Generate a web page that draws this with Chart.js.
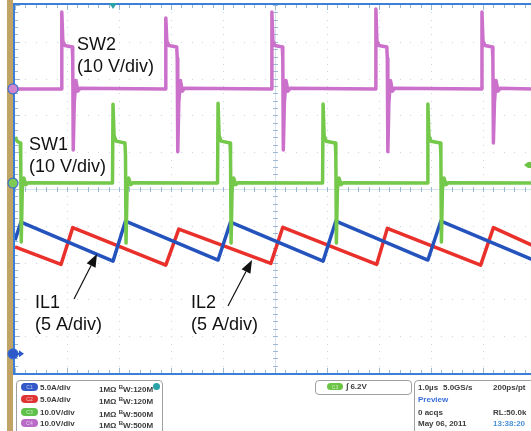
<!DOCTYPE html>
<html>
<head>
  <meta charset="utf-8" />
  <title>SW1 / SW2 / IL1 / IL2</title>
  <script src="https://cdn.jsdelivr.net/npm/chart.js"></script>
  <style>
    html, body { margin: 0; padding: 0; background: #fff; overflow: hidden; }
    #wrap { position: relative; width: 531px; height: 431px; overflow: hidden; }
    #scope { position: absolute; left: 0; top: 0; }
    .box { position: absolute; border: 1px solid #a0a0a0; border-radius: 4px; background: #fff; }
    .t { position: absolute; font: bold 8px 'Liberation Sans', Arial, sans-serif; color: #3c3c3c; white-space: nowrap; line-height: 9px; }
    .badge { position: absolute; width: 17px; height: 8px; border-radius: 4px; font: 5px 'Liberation Sans', Arial, sans-serif; color: rgba(255,255,255,0.7); text-align: center; line-height: 8px; }
    .bw { font-size: 6px; vertical-align: 3px; }
  </style>
</head>
<body>
<div id="wrap">
  <canvas id="scope" width="540" height="431"></canvas>
  <div id="status"></div>
</div>

<script>
// time in µs (1 µs/div), levels in screen divisions (center = 0)
const sw2 = [
  [0, 2.72],
  [0.89, 2.72], [0.90, 4.81], [0.92, 4.02], [0.96, 3.90], [1.10, 3.86], [1.11, 3.55], [1.12, 1.06], [1.14, 2.35], [1.17, 2.95], [1.21, 2.66], [1.25, 2.74],
  [2.89, 2.72], [2.90, 4.65], [2.92, 4.02], [2.96, 3.90], [3.11, 3.86], [3.12, 3.55], [3.13, 1.01], [3.15, 2.35], [3.18, 2.95], [3.22, 2.66], [3.26, 2.74],
  [4.93, 2.72], [4.94, 4.81], [4.96, 4.02], [5.00, 3.90], [5.14, 3.86], [5.15, 3.55], [5.16, 1.06], [5.18, 2.35], [5.21, 2.95], [5.25, 2.66], [5.29, 2.74],
  [6.93, 2.72], [6.94, 4.89], [6.96, 4.02], [7.00, 3.90], [7.15, 3.86], [7.16, 3.55], [7.17, 1.01], [7.19, 2.35], [7.22, 2.95], [7.26, 2.66], [7.30, 2.74],
  [8.97, 2.72], [8.98, 4.81], [9.00, 4.02], [9.04, 3.90], [9.18, 3.86], [9.19, 3.55], [9.20, 1.25], [9.22, 2.35], [9.25, 2.95], [9.29, 2.66], [9.33, 2.74],
  [9.95, 2.72]
];

const sw1 = [
  [0, 1.41], [0.04, 1.30], [0.10, 1.25], [0.11, 0.90], [0.12, -1.44], [0.14, 0.00], [0.17, 0.30], [0.21, 0.12], [0.25, 0.17],
  [1.875, 0.16], [1.885, 2.30], [1.905, 1.45], [1.945, 1.30], [2.115, 1.25], [2.125, 0.90], [2.135, -1.47], [2.155, 0.00], [2.185, 0.30], [2.225, 0.12], [2.265, 0.17],
  [3.895, 0.16], [3.905, 2.33], [3.925, 1.45], [3.965, 1.30], [4.135, 1.25], [4.145, 0.90], [4.155, -1.47], [4.175, 0.00], [4.205, 0.30], [4.245, 0.12], [4.285, 0.17],
  [5.915, 0.16], [5.925, 2.31], [5.945, 1.45], [5.985, 1.30], [6.160, 1.25], [6.170, 0.90], [6.180, -1.47], [6.200, 0.00], [6.230, 0.30], [6.270, 0.12], [6.310, 0.17],
  [7.930, 0.16], [7.940, 2.31], [7.960, 1.45], [8.000, 1.30], [8.180, 1.25], [8.190, 0.90], [8.200, -1.44], [8.220, 0.00], [8.250, 0.30], [8.290, 0.12], [8.330, 0.17],
  [9.95, 0.16]
];

const il1 = [
  [0, -1.39], [0.115, -0.90], [1.885, -1.96], [2.125, -0.87], [3.905, -1.93], [4.145, -0.90],
  [5.925, -1.96], [6.17, -0.87], [7.94, -1.93], [8.19, -0.87], [9.95, -1.92]
];

const il2 = [
  [0, -1.57], [0.885, -2.05], [1.11, -1.05], [2.90, -2.07], [3.15, -1.09], [4.92, -2.02], [5.15, -1.04],
  [6.955, -2.05], [7.16, -1.07], [8.955, -2.07], [9.20, -1.05], [9.95, -1.53]
];

// channel ground markers and trigger (divisions / µs)
const groundSW2 = 2.72;
const groundSW1 = 0.16;
const groundIL1 = -4.48;
const trigTime = 1.885;
const trigLevel = 0.65;

const notes = [
  { lines: ['SW2', '(10 V/div)'], t: 1.19, v: 3.78 },
  { lines: ['SW1', '(10 V/div)'], t: 0.27, v: 1.06 },
  { lines: ['IL1', '(5 A/div)'], t: 0.385, v: -3.23 },
  { lines: ['IL2', '(5 A/div)'], t: 3.385, v: -3.23 }
];
const arrows = [
  { from: [1.135, -2.99], to: [1.577, -1.766] },
  { from: [4.096, -3.18], to: [4.558, -1.929] }
];

const channelRows = [
  ['C1', '#3458c8', '5.0A/div', '120M'],
  ['C2', '#e03434', '5.0A/div', '120M'],
  ['C3', '#5fc04a', '10.0V/div', '500M'],
  ['C4', '#b86cc8', '10.0V/div', '500M']
];

const toXY = arr => arr.map(p => ({ x: p[0], y: p[1] }));

const graticule = {
  id: 'graticule',
  beforeDatasetsDraw(chart) {
    const { ctx, chartArea: a, scales: { x, y } } = chart;
    const xs = [], ys = [];
    for (let i = 0; i <= 50; i++) xs.push(Math.round(x.getPixelForValue(x.min + i * 0.2)));
    for (let i = 0; i <= 50; i++) ys.push(Math.round(y.getPixelForValue(y.min + i * 0.2)));
    ctx.save();
    // tan strip at left
    ctx.fillStyle = '#c2a366';
    ctx.fillRect(a.left - 8, 0, 6, 431);

    // dotted division lines
    ctx.fillStyle = '#c6d4e3';
    for (let i = 5; i < 50; i += 5) {
      if (i === 25) continue;
      for (let j = 0; j < ys.length; j++) ctx.fillRect(xs[i], ys[j], 1, 1);
      for (let j = 0; j < xs.length; j++) ctx.fillRect(xs[j], ys[i], 1, 1);
    }
    // center cross
    const cx = xs[25], cy = ys[25];
    ctx.fillStyle = '#d6e2ee';
    ctx.fillRect(a.left, cy, a.right - a.left, 1);
    ctx.fillRect(cx, a.top, 1, a.bottom - a.top);
    ctx.fillStyle = '#9fb8d2';
    xs.forEach(px => ctx.fillRect(px, cy - 2, 1, 5));
    ys.forEach(py => ctx.fillRect(cx - 2, py, 5, 1));

    // border ticks
    ys.forEach((py, i) => ctx.fillRect(a.left, py, i % 5 === 0 ? 5 : 3, 1));
    xs.forEach((px, i) => {
      ctx.fillRect(px, a.top, 1, i % 5 === 0 ? 5 : 3);
      ctx.fillRect(px, a.bottom - (i % 5 === 0 ? 5 : 3), 1, i % 5 === 0 ? 5 : 3);
    });

    // blue frame
    ctx.fillStyle = '#3b7fd6';
    ctx.fillRect(a.left - 2, a.top - 2, a.right - a.left + 4, 2);
    ctx.fillRect(a.left - 2, a.top - 2, 2, a.bottom - a.top + 4);
    ctx.fillRect(a.left - 2, a.bottom, a.right - a.left + 4, 2);
    ctx.restore();
  }
};

const overlay = {
  id: 'overlay',
  afterDatasetsDraw(chart) {
    const { ctx, chartArea: a, scales: { x, y } } = chart;
    ctx.save();

    // ground markers
    const marker = (py, fill) => {
      ctx.beginPath();
      ctx.arc(a.left - 2, py, 5, 0, Math.PI * 2);
      ctx.fillStyle = fill;
      ctx.fill();
      ctx.lineWidth = 1.2;
      ctx.strokeStyle = '#3b6fd0';
      ctx.stroke();
    };
    marker(y.getPixelForValue(groundSW2), '#cf86cf');
    marker(y.getPixelForValue(groundSW1), '#7fca55');
    const gy = y.getPixelForValue(groundIL1);
    marker(gy, '#2d58c8');
    ctx.fillStyle = '#2d58c8';
    ctx.fillRect(a.left, gy - 1, 5, 2);
    ctx.beginPath();
    ctx.moveTo(a.left + 9, gy);
    ctx.lineTo(a.left + 4, gy - 3.5);
    ctx.lineTo(a.left + 4, gy + 3.5);
    ctx.closePath();
    ctx.fill();

    // trigger position
    const tx = x.getPixelForValue(trigTime);
    ctx.fillStyle = '#2aa3a8';
    ctx.beginPath();
    ctx.moveTo(tx - 4, a.top - 2);
    ctx.lineTo(tx + 4, a.top - 2);
    ctx.lineTo(tx, a.top + 4);
    ctx.closePath();
    ctx.fill();

    // trigger level
    const ty = y.getPixelForValue(trigLevel);
    ctx.fillStyle = '#6cc444';
    ctx.beginPath();
    ctx.moveTo(524, ty);
    ctx.lineTo(528, ty - 3);
    ctx.lineTo(534, ty - 3);
    ctx.lineTo(534, ty + 3);
    ctx.lineTo(528, ty + 3);
    ctx.closePath();
    ctx.fill();

    // annotations
    ctx.fillStyle = '#111';
    ctx.font = "18px 'Liberation Sans', Arial, sans-serif";
    ctx.textBaseline = 'alphabetic';
    notes.forEach(n => {
      const px = x.getPixelForValue(n.t), py = y.getPixelForValue(n.v);
      n.lines.forEach((s, i) => ctx.fillText(s, px, py + i * 22));
    });

    ctx.strokeStyle = '#111';
    ctx.lineWidth = 1.2;
    arrows.forEach(ar => {
      const x0 = x.getPixelForValue(ar.from[0]), y0 = y.getPixelForValue(ar.from[1]);
      const x1 = x.getPixelForValue(ar.to[0]), y1 = y.getPixelForValue(ar.to[1]);
      const ang = Math.atan2(y1 - y0, x1 - x0);
      const hl = 13, hw = 5;
      const bx = x1 - hl * Math.cos(ang), by = y1 - hl * Math.sin(ang);
      ctx.beginPath();
      ctx.moveTo(x0, y0);
      ctx.lineTo(bx, by);
      ctx.stroke();
      ctx.beginPath();
      ctx.moveTo(x1, y1);
      ctx.lineTo(bx + hw * Math.sin(ang), by - hw * Math.cos(ang));
      ctx.lineTo(bx - hw * Math.sin(ang), by + hw * Math.cos(ang));
      ctx.closePath();
      ctx.fill();
    });
    ctx.restore();
  }
};

const trace = (label, data, color, order, width) => ({
  label, data: toXY(data), borderColor: color, backgroundColor: color,
  borderWidth: width, order, showLine: true, pointRadius: 0, tension: 0,
  borderJoinStyle: 'round'
});

new Chart(document.getElementById('scope').getContext('2d'), {
  type: 'scatter',
  data: {
    datasets: [
      trace('SW1', sw1, '#74c84a', 0, 3.5),
      trace('SW2', sw2, '#cb70cb', 1, 3.5),
      trace('IL1', il1, '#2453bd', 2, 3.5),
      trace('IL2', il2, '#e9302b', 3, 3.5)
    ]
  },
  options: {
    responsive: false,
    animation: false,
    events: [],
    layout: { padding: { left: 15, top: 5, right: 5, bottom: 58 } },
    plugins: { legend: { display: false }, tooltip: { enabled: false } },
    scales: {
      x: { type: 'linear', min: 0, max: 10, display: false },
      y: { type: 'linear', min: -5, max: 5, display: false }
    }
  },
  plugins: [graticule, overlay]
});

// status bar below the graticule
const status = document.getElementById('status');
function add(cls, css, html) {
  const d = document.createElement('div');
  d.className = cls;
  d.style.cssText = css;
  if (html) d.innerHTML = html;
  status.appendChild(d);
  return d;
}
add('box', 'left:16px;top:380px;width:145px;height:60px;');
add('box', 'left:315px;top:380px;width:95px;height:13px;');
add('box', 'left:414px;top:380px;width:125px;height:60px;');

const rowTops = [383, 395, 408, 419];
channelRows.forEach((r, i) => {
  const top = rowTops[i];
  add('badge', `left:21px;top:${top}px;background:${r[1]};`, r[0]);
  add('t', `left:40px;top:${top}px;`, r[2]);
  add('t', `left:99px;top:${top}px;`, `1MΩ <span class="bw">B</span>W:${r[3]}`);
});
add('badge', 'left:153px;top:383px;width:7px;height:7px;border-radius:50%;background:#2aa3a8;');

add('badge', 'left:327px;top:383px;width:16px;height:7px;background:#6cc444;', 'C3');
add('t', 'left:346px;top:382px;', '∫ 6.2V');

add('t', 'left:418px;top:383px;', '1.0µs');
add('t', 'left:443px;top:383px;', '5.0GS/s');
add('t', 'left:493px;top:383px;', '200ps/pt');
add('t', 'left:418px;top:395px;color:#3a6fd8;', 'Preview');
add('t', 'left:418px;top:408px;', '0 acqs');
add('t', 'left:493px;top:408px;', 'RL:50.0k');
add('t', 'left:418px;top:419px;', 'May 06, 2011');
add('t', 'left:493px;top:419px;color:#4a92d8;', '13:38:20');
</script>
</body>
</html>
